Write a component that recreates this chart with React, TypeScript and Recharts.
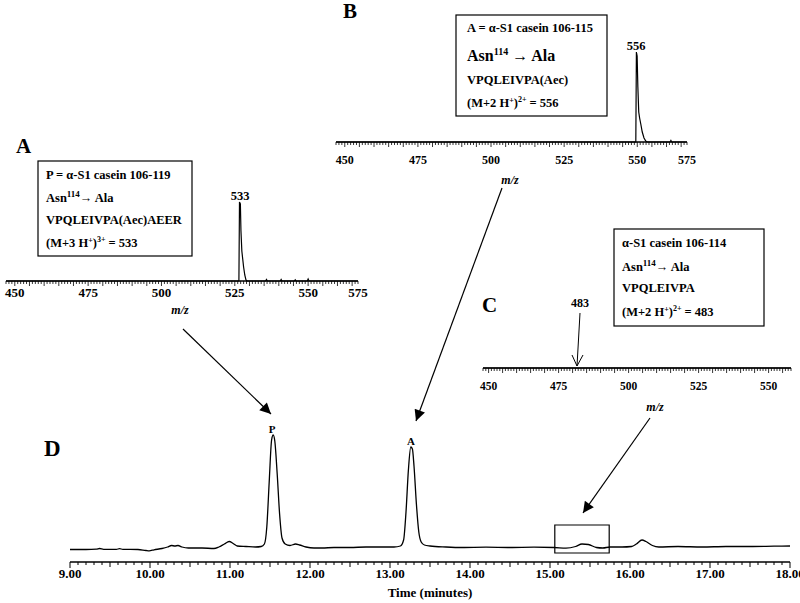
import React from 'react';
import { LineChart, Line, XAxis, YAxis, ReferenceArea } from 'recharts';

const SERIF = "'Liberation Serif', 'Times New Roman', serif";

// ---------- Chromatogram (panel D) ----------
const chromTime = [
  9.0, 9.2, 9.33, 9.37, 9.42, 9.58, 9.62, 9.66, 9.85, 9.95, 9.99, 10.05, 10.15, 10.22, 10.27, 10.31, 10.35, 10.4,
  10.48, 10.65, 10.8, 10.86, 10.93, 10.99, 11.04, 11.09, 11.2, 11.32, 11.39, 11.43, 11.46, 11.49, 11.52, 11.54,
  11.56, 11.59, 11.62, 11.65, 11.69, 11.75, 11.82, 11.87, 11.95, 12.05, 12.15, 12.3, 12.5, 12.7, 12.9, 13.05,
  13.13, 13.17, 13.2, 13.23, 13.26, 13.28, 13.3, 13.33, 13.36, 13.39, 13.43, 13.5, 13.7, 13.9, 14.2, 14.5, 14.8,
  15.05, 15.2, 15.32, 15.4, 15.48, 15.58, 15.66, 15.75, 15.9, 16.02, 16.08, 16.15, 16.2, 16.28, 16.36, 16.6, 16.9,
  17.2, 17.5, 17.8, 18.0,
];
const chromSignal = [
  12.5, 12.5, 12.8, 13.5, 12.6, 12.6, 13.4, 12.6, 12.5, 11.5, 11.2, 12.2, 13.5, 15, 16.5, 16, 16.5, 15,
  14, 14, 13.5, 15, 18, 20.5, 18.5, 16, 15.5, 15, 15.5, 18, 35, 80, 122, 127,
  121, 88, 48, 24, 18, 16.5, 18, 17, 15, 14, 14, 14.5, 14.5, 15, 15, 15,
  16, 22, 50, 92, 115, 113, 96, 58, 30, 20, 17, 16, 15, 14.5, 14.8, 14.5, 14.8,
  14.5, 13.8, 15.5, 18, 17.5, 14.5, 14, 15, 15, 15.5, 18, 22, 20.5, 16.5, 15, 15.5, 15,
  15.5, 15.5, 15.8, 16,
];
const chromData = chromTime.map((t, i) => ({ t, v: chromSignal[i] }));
const timeTicks = Array.from({ length: 91 }, (_, i) => Math.round((9 + i * 0.1) * 10) / 10);
const highlightTime = [15.06, 15.74];
const highlightSignal = [9, 37];

// ---------- Mass spectra (panels A, B, C) ----------
const specAmz = [447, 526.4, 526.6, 526.9, 527.1, 527.4, 527.7, 528.0, 528.4, 528.8, 529.2, 535.5, 535.8, 536.1,
  540.5, 540.8, 541.1, 545.3, 545.6, 545.9, 549.7, 550, 550.3, 567];
const specAint = [0, 0, 79, 77, 50, 30, 22, 14, 6, 1, 0, 0, 1.5, 0, 0, 1.5, 0, 0, 1.2, 0, 0, 2, 0, 0];
const specBmz = [447, 549.5, 549.7, 549.95, 550.2, 550.5, 550.8, 551.2, 551.7, 552.3, 552.9, 553.4, 561.2, 561.5, 561.8, 567];
const specBint = [0, 0, 90, 86, 55, 30, 24, 18, 10, 4, 1, 0, 0, 1.5, 0, 0];
const specCmz = [448, 558];
const specCint = [0, 0];

const specAData = specAmz.map((mz, i) => ({ mz, i: specAint[i] }));
const specBData = specBmz.map((mz, i) => ({ mz, i: specBint[i] }));
const specCData = specCmz.map((mz, i) => ({ mz, i: specCint[i] }));

const mzLabels = [450, 475, 500, 525, 550];
const mzEndLabel = '575';
const range = (a: number, b: number) => Array.from({ length: b - a + 1 }, (_, k) => a + k);
const ticksAB = range(447, 567);
const ticksC = range(448, 558);

const TimeTick = (props: any) => {
  const { x, y, payload } = props;
  const v = payload.value as number;
  const isInt = Math.abs(v - Math.round(v)) < 1e-6;
  const isHalf = Math.abs(v * 2 - Math.round(v * 2)) < 1e-6;
  const len = isInt ? 6 : isHalf ? 5 : 3;
  return (
    <g>
      <line x1={x} x2={x} y1={y} y2={y + len} stroke="#000" strokeWidth={1} />
      {isInt && (
        <text x={x} y={y + 16} textAnchor="middle" fontFamily={SERIF} fontWeight="bold" fontSize={13} fill="#000">
          {v.toFixed(2)}
        </text>
      )}
    </g>
  );
};

const makeMzTick = (endValue: number | null, fontSize: number, labelDy: number) => (props: any) => {
  const { x, y, payload } = props;
  const v = Math.round(payload.value as number);
  const len = v % 5 === 0 ? 5 : 3;
  let label: string | null = null;
  if (mzLabels.includes(v)) label = String(v);
  else if (endValue !== null && v === endValue) label = mzEndLabel;
  return (
    <g>
      <line x1={x} x2={x} y1={y} y2={y + len} stroke="#000" strokeWidth={0.8} />
      {label && (
        <text x={x} y={y + labelDy} textAnchor="middle" fontFamily={SERIF} fontWeight="bold" fontSize={fontSize} fill="#000">
          {label}
        </text>
      )}
    </g>
  );
};

const TickA = makeMzTick(567, 13, 16);
const TickB = makeMzTick(567, 12, 22);
const TickC = makeMzTick(null, 11.5, 22);

const B = (props: any) => <text fontFamily={SERIF} fontWeight="bold" fill="#000" {...props} />;

const Spectrum = ({ left, top, width, height, data, domain, ymax, ticks, Tick, mr }: any) => (
  <div style={{ position: 'absolute', left, top }}>
    <LineChart width={width} height={height} data={data} margin={{ top: 0, right: mr, bottom: 0, left: 20 }}>
      <XAxis
        dataKey="mz"
        type="number"
        domain={domain}
        ticks={ticks}
        interval={0}
        tick={<Tick />}
        tickLine={false}
        tickSize={0}
        tickMargin={0}
        height={26}
        axisLine={{ stroke: '#000', strokeWidth: 1.3 }}
        allowDataOverflow
      />
      <YAxis hide domain={[0, ymax]} />
      <Line type="linear" dataKey="i" stroke="#000" strokeWidth={1.2} dot={false} isAnimationActive={false} />
    </LineChart>
  </div>
);

export default function App() {
  return (
    <div style={{ position: 'absolute', left: 0, top: 0, width: 800, height: 603, overflow: 'hidden', background: '#fff' }}>
      {/* Panel D chromatogram: plot x 70..790, y 422..562 */}
      <div style={{ position: 'absolute', left: 40, top: 422 }}>
        <LineChart width={780} height={180} data={chromData} margin={{ top: 0, right: 30, bottom: 0, left: 30 }}>
          <XAxis
            dataKey="t"
            type="number"
            domain={[9, 18]}
            ticks={timeTicks}
            interval={0}
            tick={<TimeTick />}
            tickLine={false}
            tickSize={0}
            tickMargin={0}
            height={40}
            axisLine={{ stroke: '#000', strokeWidth: 1.5 }}
            label={{ value: 'Time (minutes)', position: 'insideBottom', offset: 5, style: { fontFamily: SERIF, fontWeight: 'bold', fontSize: 13, fill: '#000' } }}
          />
          <YAxis hide domain={[0, 140]} />
          <ReferenceArea x1={highlightTime[0]} x2={highlightTime[1]} y1={highlightSignal[0]} y2={highlightSignal[1]} fill="none" fillOpacity={0} stroke="#000" strokeWidth={1.2} />
          <Line type="monotone" dataKey="v" stroke="#000" strokeWidth={1.3} dot={false} isAnimationActive={false} />
        </LineChart>
      </div>

      {/* Spectrum A: plot x 6..358, y 199..281 */}
      <Spectrum left={-14} top={199} width={392} height={82 + 26} data={specAData} domain={[447, 567]} ymax={82} ticks={ticksAB} Tick={TickA} mr={20} />
      {/* Spectrum B: plot x 336..687, y 45..142 */}
      <Spectrum left={316} top={45} width={391} height={97 + 26} data={specBData} domain={[447, 567]} ymax={97} ticks={ticksAB} Tick={TickB} mr={20} />
      {/* Spectrum C: plot x 483..791, y 348..368 */}
      <Spectrum left={463} top={348} width={348} height={20 + 26} data={specCData} domain={[448, 558]} ymax={20} ticks={ticksC} Tick={TickC} mr={20} />

      <svg width={800} height={603} style={{ position: 'absolute', left: 0, top: 0, pointerEvents: 'none' }}>
        <defs>
          <marker id="tri" viewBox="0 0 10 10" refX={10} refY={5} markerWidth={13} markerHeight={11} markerUnits="userSpaceOnUse" orient="auto">
            <path d="M0,0 L10,5 L0,10 z" fill="#000" />
          </marker>
        </defs>

        {/* Panel letters */}
        <B x={16} y={153} fontSize={21}>A</B>
        <B x={343} y={18} fontSize={21}>B</B>
        <B x={482} y={312} fontSize={21}>C</B>
        <B x={44} y={456} fontSize={23}>D</B>

        {/* Box A */}
        <rect x={38} y={161} width={154} height={95} fill="none" stroke="#000" strokeWidth={1.2} />
        <B x={46} y={179} fontSize={12.5}>P = α-S1 casein 106-119</B>
        <B x={46} y={202} fontSize={12.5}>Asn<tspan dy={-5} fontSize={9}>114</tspan><tspan dy={5}>→ Ala</tspan></B>
        <B x={46} y={224} fontSize={12.5}>VPQLEIVPA(Aec)AEER</B>
        <B x={46} y={247} fontSize={12.5}>(M+3 H<tspan dy={-4} fontSize={8}>+</tspan><tspan dy={4}>)</tspan><tspan dy={-5} fontSize={8}>3+</tspan><tspan dy={5}> = 533</tspan></B>

        {/* Box B */}
        <rect x={456} y={15} width={151} height={101} fill="none" stroke="#000" strokeWidth={1.2} />
        <B x={467} y={32} fontSize={12.5}>A = α-S1 casein 106-115</B>
        <B x={467} y={61} fontSize={16}>Asn<tspan dy={-6} fontSize={10}>114</tspan><tspan dy={6}> → Ala</tspan></B>
        <B x={467} y={84} fontSize={12.5}>VPQLEIVPA(Aec)</B>
        <B x={467} y={107} fontSize={12.5}>(M+2 H<tspan dy={-4} fontSize={8}>+</tspan><tspan dy={4}>)</tspan><tspan dy={-5} fontSize={8}>2+</tspan><tspan dy={5}> = 556</tspan></B>

        {/* Box C */}
        <rect x={614} y={229} width={150} height={97} fill="none" stroke="#000" strokeWidth={1.2} />
        <B x={622} y={247} fontSize={12.5}>α-S1 casein 106-114</B>
        <B x={622} y={271} fontSize={12.5}>Asn<tspan dy={-5} fontSize={9}>114</tspan><tspan dy={5}>→ Ala</tspan></B>
        <B x={622} y={292} fontSize={12.5}>VPQLEIVPA</B>
        <B x={622} y={316} fontSize={12.5}>(M+2 H<tspan dy={-4} fontSize={8}>+</tspan><tspan dy={4}>)</tspan><tspan dy={-5} fontSize={8}>2+</tspan><tspan dy={5}> = 483</tspan></B>

        {/* Peak labels */}
        <B x={240} y={200} fontSize={12.5} textAnchor="middle">533</B>
        <B x={636} y={50} fontSize={12.5} textAnchor="middle">556</B>
        <B x={580} y={307} fontSize={12} textAnchor="middle">483</B>
        <B x={272} y={433} fontSize={11} textAnchor="middle">P</B>
        <B x={411} y={445} fontSize={11} textAnchor="middle">A</B>

        {/* m/z labels */}
        <B x={180} y={314} fontSize={12} fontStyle="italic" textAnchor="middle">m/z</B>
        <B x={510} y={184} fontSize={12} fontStyle="italic" textAnchor="middle">m/z</B>
        <B x={655} y={411} fontSize={12} fontStyle="italic" textAnchor="middle">m/z</B>

        {/* 483 arrow (open head) */}
        <line x1={580} y1={313} x2={577} y2={366} stroke="#000" strokeWidth={1} />
        <polyline points="572,355 577,366 583,355" fill="none" stroke="#000" strokeWidth={1} />

        {/* Connecting arrows */}
        <line x1={183} y1={329} x2={271} y2={414} stroke="#000" strokeWidth={1.2} markerEnd="url(#tri)" />
        <line x1={502} y1={188} x2={416} y2={421} stroke="#000" strokeWidth={1.2} markerEnd="url(#tri)" />
        <line x1={650} y1={418} x2={583} y2={513} stroke="#000" strokeWidth={1.2} markerEnd="url(#tri)" />
      </svg>
    </div>
  );
}
